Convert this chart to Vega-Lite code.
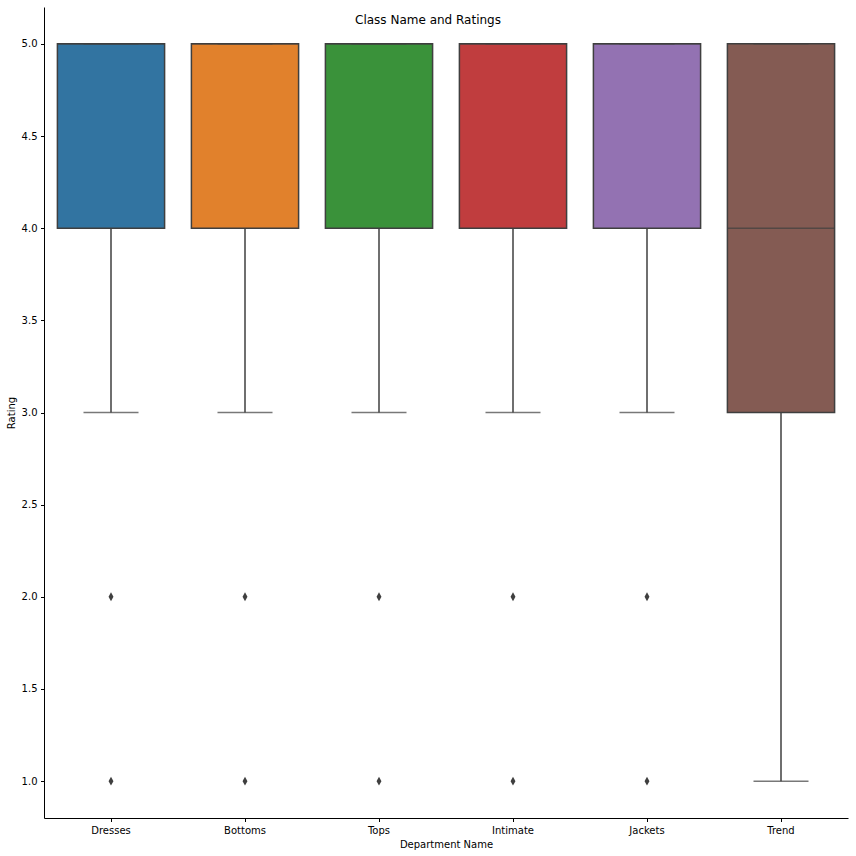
{
  "$schema": "https://vega.github.io/schema/vega-lite/v6.json",
  "width": 804,
  "height": 811,
  "autosize": {"type": "none"},
  "padding": {"left": 44, "top": 7, "right": 8, "bottom": 38},
  "background": "white",
  "title": {"text": "Class Name and Ratings", "font": "DejaVu Sans", "fontSize": 12, "fontWeight": "normal", "color": "#000000", "anchor": "middle", "dx": -18, "dy": 24},
  "config": {
    "view": {"stroke": null},
    "axis": {"labelFont": "DejaVu Sans", "titleFont": "DejaVu Sans", "labelFontSize": 10, "titleFontSize": 10, "titleFontWeight": "normal", "labelColor": "#000000", "titleColor": "#000000", "domainColor": "#000000", "tickColor": "#000000", "tickSize": 3.5, "labelPadding": 3.5, "grid": false, "domainWidth": 1, "tickWidth": 1}
  },
  "datasets": {
    "boxes": [
      {"dept": "Dresses", "lo": 3, "q1": 4, "med": 5, "q3": 5, "hi": 5},
      {"dept": "Bottoms", "lo": 3, "q1": 4, "med": 5, "q3": 5, "hi": 5},
      {"dept": "Tops", "lo": 3, "q1": 4, "med": 5, "q3": 5, "hi": 5},
      {"dept": "Intimate", "lo": 3, "q1": 4, "med": 5, "q3": 5, "hi": 5},
      {"dept": "Jackets", "lo": 3, "q1": 4, "med": 5, "q3": 5, "hi": 5},
      {"dept": "Trend", "lo": 1, "q1": 3, "med": 4, "q3": 5, "hi": 5}
    ],
    "outliers": [
      {"dept": "Dresses", "rating": 2}, {"dept": "Dresses", "rating": 1},
      {"dept": "Bottoms", "rating": 2}, {"dept": "Bottoms", "rating": 1},
      {"dept": "Tops", "rating": 2}, {"dept": "Tops", "rating": 1},
      {"dept": "Intimate", "rating": 2}, {"dept": "Intimate", "rating": 1},
      {"dept": "Jackets", "rating": 2}, {"dept": "Jackets", "rating": 1}
    ]
  },
  "encoding": {
    "x": {"field": "dept", "type": "nominal", "sort": ["Dresses", "Bottoms", "Tops", "Intimate", "Jackets", "Trend"],
      "scale": {"paddingInner": 0.2, "paddingOuter": 0.1},
      "axis": {"title": "Department Name", "labelAngle": 0, "titlePadding": 4}}
  },
  "layer": [
    {
      "data": {"name": "boxes"},
      "mark": {"type": "rule", "color": "#3f3f3f", "strokeWidth": 1.5},
      "encoding": {
        "y": {"field": "lo", "type": "quantitative", "scale": {"domain": [0.8, 5.2], "nice": false, "zero": false},
          "axis": {"title": "Rating", "values": [1, 1.5, 2, 2.5, 3, 3.5, 4, 4.5, 5], "format": ".1f", "titlePadding": 5}},
        "y2": {"field": "q1"}
      }
    },
    {
      "data": {"name": "boxes"},
      "mark": {"type": "rule", "color": "#3f3f3f", "strokeWidth": 1.5},
      "encoding": {"y": {"field": "q3", "type": "quantitative"}, "y2": {"field": "hi"}}
    },
    {
      "data": {"name": "boxes"},
      "mark": {"type": "bar", "stroke": "#3f3f3f", "strokeWidth": 1.5, "width": {"band": 1}},
      "encoding": {
        "y": {"field": "q1", "type": "quantitative"}, "y2": {"field": "q3"},
        "fill": {"field": "dept", "type": "nominal", "sort": ["Dresses", "Bottoms", "Tops", "Intimate", "Jackets", "Trend"],
          "scale": {"range": ["#3274a1", "#e1812c", "#3a923a", "#c03d3e", "#9372b2", "#845b53"]}, "legend": null}
      }
    },
    {
      "data": {"name": "boxes"},
      "mark": {"type": "tick", "color": "#3f3f3f", "thickness": 1.5, "width": 55},
      "encoding": {"y": {"field": "lo", "type": "quantitative"}}
    },
    {
      "data": {"name": "boxes"},
      "mark": {"type": "tick", "color": "#3f3f3f", "thickness": 1.5, "width": 55},
      "encoding": {"y": {"field": "hi", "type": "quantitative"}}
    },
    {
      "data": {"name": "boxes"},
      "mark": {"type": "tick", "color": "#3f3f3f", "thickness": 1.5, "width": {"band": 1}},
      "encoding": {"y": {"field": "med", "type": "quantitative"}}
    },
    {
      "data": {"name": "outliers"},
      "mark": {"type": "point", "shape": "M0,-1L0.55,0L0,1L-0.55,0Z", "filled": true, "color": "#3f3f3f", "size": 80, "opacity": 1},
      "encoding": {"y": {"field": "rating", "type": "quantitative"}}
    }
  ]
}
